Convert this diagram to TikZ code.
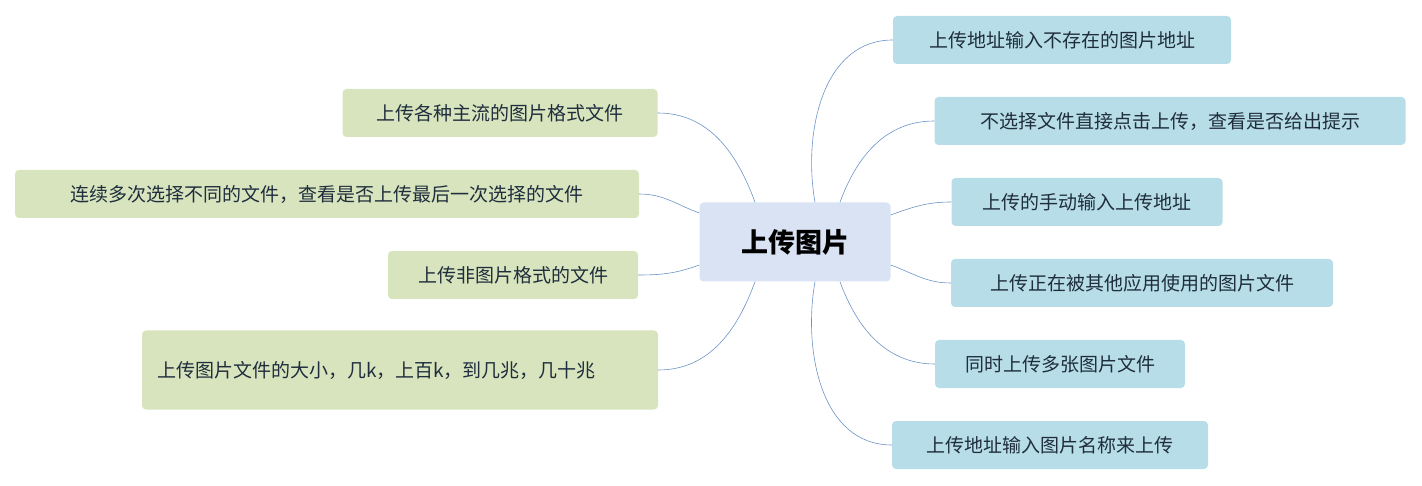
\documentclass[tikz,border=0pt]{standalone}
\usepackage{fontspec}
\setmainfont{Noto Sans CJK SC}
\usetikzlibrary{calc}
\definecolor{rootfill}{HTML}{DAE3F3}
\definecolor{rightfill}{HTML}{B7DDE8}
\definecolor{leftfill}{HTML}{D7E4BD}
\definecolor{linkcol}{HTML}{6C93C6}
\definecolor{txtcol}{HTML}{1F2D3D}
\tikzset{
  topic/.style={rounded corners=4pt, inner sep=0pt, text=txtcol,
    font=\fontsize{19}{26}\selectfont, minimum height=48pt},
  rtopic/.style={topic, fill=rightfill},
  ltopic/.style={topic, fill=leftfill},
  link/.style={draw=linkcol, line width=0.6pt},
}
\begin{document}
\begin{tikzpicture}[x=1pt,y=-1pt]
  \useasboundingbox (0,0) rectangle (1422,486);
  \node[topic, fill=rootfill, minimum width=191pt, minimum height=79pt,
    font=\fontsize{27}{32}\selectfont\bfseries, text=black] (root) at (795,242) {上传图片};

  % right side
  \node[rtopic, minimum width=338pt] (r1) at (1062,40) {上传地址输入不存在的图片地址};
  \node[rtopic, minimum width=471pt] (r2) at (1170,121) {不选择文件直接点击上传，查看是否给出提示};
  \node[rtopic, minimum width=271pt] (r3) at (1087,202) {上传的手动输入上传地址};
  \node[rtopic, minimum width=382pt] (r4) at (1142,283) {上传正在被其他应用使用的图片文件};
  \node[rtopic, minimum width=250pt] (r5) at (1060,364) {同时上传多张图片文件};
  \node[rtopic, minimum width=316pt] (r6) at (1050,445) {上传地址输入图片名称来上传};

  % left side
  \node[ltopic, minimum width=315pt] (l1) at (500,113) {上传各种主流的图片格式文件};
  \node[ltopic, minimum width=624pt] (l2) at (327,194) {连续多次选择不同的文件，查看是否上传最后一次选择的文件};
  \node[ltopic, minimum width=250pt] (l3) at (513,275) {上传非图片格式的文件};
  \node[ltopic, minimum width=516pt, minimum height=79pt, text width=486pt, align=left]
    (l4) at (400,370) {上传图片文件的大小，几k，上百k，到几兆，几十兆};

  \draw[link] ($(root.north)+(20,0)$) to[out=100,in=180] (r1.west);
  \draw[link] ($(root.north)+(45,0)$) to[out=70,in=180] (r2.west);
  \draw[link] ($(root.east)+(0,-27)$) to[out=20,in=180] (r3.west);
  \draw[link] ($(root.east)+(0,23)$) to[out=-20,in=180] (r4.west);
  \draw[link] ($(root.south)+(45,0)$) to[out=-70,in=180] (r5.west);
  \draw[link] ($(root.south)+(20,0)$) to[out=-100,in=180] (r6.west);

  \draw[link] ($(root.north)+(-40,0)$) to[out=110,in=0] (l1.east);
  \draw[link] ($(root.west)+(0,-29)$) to[out=160,in=0] (l2.east);
  \draw[link] ($(root.west)+(0,23)$) to[out=200,in=0] (l3.east);
  \draw[link] ($(root.south)+(-40,0)$) to[out=-110,in=0] (l4.east);
\end{tikzpicture}
\end{document}
